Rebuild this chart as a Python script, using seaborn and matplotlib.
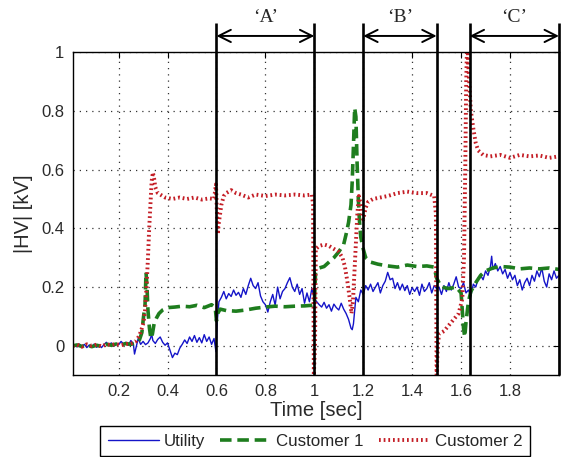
import matplotlib
matplotlib.use("Agg")
import matplotlib.pyplot as plt
import seaborn as sns

# ---- data ----
t_utility = [
    0.0125, 0.02, 0.03, 0.04, 0.05, 0.06, 0.07, 0.08, 0.09, 0.10, 0.11, 0.12, 0.13, 0.14,
    0.15, 0.16, 0.17, 0.18, 0.19, 0.20, 0.21, 0.22, 0.23, 0.24, 0.25, 0.26, 0.265, 0.27,
    0.28, 0.29, 0.30, 0.31, 0.32, 0.33, 0.335, 0.34, 0.35, 0.36, 0.37, 0.38, 0.39, 0.40,
    0.41, 0.42, 0.43, 0.44, 0.45, 0.46, 0.47, 0.48, 0.49, 0.50, 0.51, 0.52, 0.53, 0.54,
    0.55, 0.56, 0.57, 0.58, 0.59, 0.598, 0.603, 0.61, 0.62, 0.63, 0.64, 0.65, 0.66, 0.67,
    0.68, 0.69, 0.70, 0.71, 0.72, 0.73, 0.74, 0.75, 0.76, 0.77, 0.78, 0.79, 0.80, 0.81,
    0.82, 0.83, 0.84, 0.85, 0.86, 0.87, 0.88, 0.89, 0.90, 0.91, 0.92, 0.93, 0.94, 0.95,
    0.96, 0.97, 0.98, 0.99, 1.00, 1.01, 1.02, 1.03, 1.04, 1.05, 1.06, 1.07, 1.08, 1.09,
    1.10, 1.11, 1.12, 1.13, 1.14, 1.15, 1.155, 1.16, 1.17, 1.18, 1.19, 1.20, 1.21, 1.22,
    1.23, 1.24, 1.25, 1.26, 1.27, 1.28, 1.29, 1.30, 1.31, 1.32, 1.33, 1.34, 1.35, 1.36,
    1.37, 1.38, 1.39, 1.40, 1.41, 1.42, 1.43, 1.44, 1.45, 1.46, 1.47, 1.48, 1.49, 1.50,
    1.51, 1.52, 1.53, 1.54, 1.55, 1.56, 1.57, 1.58, 1.59, 1.60, 1.61, 1.62, 1.63, 1.64,
    1.65, 1.66, 1.67, 1.68, 1.69, 1.70, 1.71, 1.72, 1.725, 1.73, 1.74, 1.75, 1.76, 1.77,
    1.78, 1.79, 1.80, 1.81, 1.82, 1.83, 1.84, 1.85, 1.86, 1.87, 1.88, 1.89, 1.90, 1.91,
    1.92, 1.93, 1.94, 1.95, 1.96, 1.97, 1.98, 1.99, 2.00,
]
v_utility = [
    0.000, 0.004, -0.004, 0.006, -0.002, 0.005, -0.006, 0.003, -0.003, 0.006, -0.005, 0.002, -0.006, 0.004,
    0.012, 0.002, 0.010, -0.002, 0.008, 0.004, 0.015, 0.006, 0.012, 0.002, 0.018, 0.008, -0.028, -0.010,
    0.025, 0.005, 0.015, 0.004, 0.010, 0.025, 0.040, 0.018, 0.008, 0.022, 0.030, 0.012, 0.002, 0.010,
    -0.015, -0.040, -0.025, -0.030, -0.008, 0.005, 0.020, 0.008, 0.030, 0.015, 0.035, 0.012, 0.028, 0.010,
    0.038, 0.015, 0.030, 0.005, 0.025, -0.020, 0.080, 0.150, 0.165, 0.185, 0.160, 0.178, 0.168, 0.190,
    0.172, 0.182, 0.165, 0.195, 0.175, 0.205, 0.230, 0.205, 0.195, 0.215, 0.170, 0.150, 0.140, 0.115,
    0.150, 0.175, 0.138, 0.200, 0.160, 0.185, 0.195, 0.215, 0.232, 0.200, 0.185, 0.210, 0.175, 0.195,
    0.145, 0.180, 0.150, 0.195, 0.160, 0.150, 0.140, 0.132, 0.148, 0.128, 0.140, 0.118, 0.142, 0.130,
    0.122, 0.145, 0.125, 0.110, 0.090, 0.060, 0.055, 0.075, 0.165, 0.150, 0.190, 0.175, 0.205, 0.190,
    0.210, 0.185, 0.200, 0.215, 0.180, 0.205, 0.220, 0.250, 0.225, 0.230, 0.195, 0.215, 0.190, 0.210,
    0.188, 0.205, 0.175, 0.198, 0.185, 0.200, 0.172, 0.210, 0.185, 0.195, 0.215, 0.180, 0.205, 0.195,
    0.200, 0.175, 0.205, 0.185, 0.215, 0.190, 0.210, 0.235, 0.200, 0.195, 0.215, 0.180, 0.190, 0.170,
    0.210, 0.200, 0.230, 0.240, 0.225, 0.255, 0.240, 0.270, 0.305, 0.260, 0.280, 0.255, 0.270, 0.245,
    0.260, 0.230, 0.250, 0.225, 0.240, 0.205, 0.225, 0.190, 0.215, 0.230, 0.205, 0.240, 0.220, 0.255,
    0.235, 0.265, 0.220, 0.200, 0.245, 0.225, 0.255, 0.230, 0.240,
]

t_customer1 = [
    0.0125, 0.03, 0.05, 0.07, 0.09, 0.11, 0.13, 0.15, 0.17, 0.19, 0.21, 0.23, 0.25, 0.27,
    0.285, 0.295, 0.302, 0.308, 0.312, 0.316, 0.320, 0.326, 0.332, 0.338, 0.345, 0.355,
    0.365, 0.38, 0.40, 0.43, 0.46, 0.49, 0.52, 0.55, 0.58, 0.595, 0.600, 0.605, 0.615,
    0.64, 0.68, 0.72, 0.76, 0.80, 0.84, 0.88, 0.92, 0.96, 0.99, 1.00, 1.005, 1.02, 1.04,
    1.06, 1.08, 1.10, 1.12, 1.13, 1.14, 1.15, 1.155, 1.16, 1.165, 1.17, 1.175, 1.18,
    1.185, 1.19, 1.20, 1.21, 1.23, 1.26, 1.30, 1.34, 1.38, 1.42, 1.46, 1.49, 1.50, 1.52,
    1.55, 1.58, 1.60, 1.605, 1.61, 1.615, 1.62, 1.63, 1.64, 1.66, 1.68, 1.70, 1.73, 1.76,
    1.80, 1.84, 1.88, 1.92, 1.96, 2.00,
]
v_customer1 = [
    0.000, 0.003, -0.002, 0.004, -0.003, 0.002, -0.002, 0.005, 0.002, 0.006, 0.003, 0.008, 0.005, 0.010,
    0.020, 0.045, 0.100, 0.140, 0.250, 0.200, 0.120, 0.060, 0.025, 0.040, 0.075, 0.095,
    0.110, 0.122, 0.130, 0.132, 0.135, 0.133, 0.138, 0.130, 0.140, 0.130, 0.085, 0.110, 0.125,
    0.120, 0.118, 0.122, 0.128, 0.132, 0.135, 0.133, 0.135, 0.136, 0.138, 0.140, 0.250, 0.265, 0.270,
    0.285, 0.300, 0.320, 0.345, 0.380, 0.420, 0.480, 0.560, 0.680, 0.810, 0.780, 0.620, 0.500,
    0.420, 0.370, 0.330, 0.300, 0.285, 0.278, 0.272, 0.268, 0.275, 0.270, 0.272, 0.268, 0.230, 0.200,
    0.195, 0.200, 0.180, 0.120, 0.060, 0.030, 0.080, 0.150, 0.185, 0.215, 0.240, 0.255, 0.265, 0.270,
    0.268, 0.262, 0.265, 0.262, 0.265, 0.260,
]

t_customer2 = [
    0.0125, 0.03, 0.05, 0.07, 0.09, 0.11, 0.13, 0.15, 0.17, 0.19, 0.21, 0.23, 0.25, 0.27,
    0.285, 0.295, 0.302, 0.308, 0.314, 0.320, 0.325, 0.330, 0.335, 0.340, 0.345, 0.350,
    0.36, 0.37, 0.39, 0.42, 0.45, 0.48, 0.51, 0.54, 0.57, 0.59, 0.598, 0.602, 0.605, 0.61,
    0.62, 0.63, 0.64, 0.66, 0.68, 0.70, 0.73, 0.76, 0.80, 0.84, 0.88, 0.92, 0.96, 0.99,
    0.995, 0.998, 1.003, 1.006, 1.02, 1.04, 1.06, 1.08, 1.10, 1.115, 1.125, 1.135, 1.145,
    1.152, 1.158, 1.164, 1.170, 1.176, 1.182, 1.19, 1.195, 1.20, 1.21, 1.22, 1.24, 1.27,
    1.30, 1.34, 1.38, 1.42, 1.46, 1.49, 1.497, 1.500, 1.505, 1.51, 1.53, 1.55, 1.57, 1.59,
    1.605, 1.612, 1.617, 1.621, 1.625, 1.63, 1.64, 1.65, 1.66, 1.67, 1.69, 1.72, 1.76,
    1.80, 1.84, 1.88, 1.92, 1.96, 2.00,
]
v_customer2 = [
    0.000, 0.004, -0.003, 0.005, 0.000, 0.004, -0.002, 0.005, 0.003, 0.006, 0.002, 0.006, 0.008, 0.015,
    0.035, 0.060, 0.080, 0.120, 0.200, 0.300, 0.400, 0.480, 0.560, 0.590, 0.570, 0.540,
    0.520, 0.515, 0.505, 0.500, 0.505, 0.500, 0.505, 0.498, 0.502, 0.500, 0.550, 0.450, 0.380, 0.420,
    0.480, 0.510, 0.520, 0.530, 0.520, 0.515, 0.505, 0.515, 0.510, 0.515, 0.512, 0.515, 0.512, 0.515,
    0.480, -0.100, 0.000, 0.330, 0.340, 0.345, 0.340, 0.330, 0.320, 0.300, 0.270, 0.220, 0.160,
    0.110, 0.150, 0.250, 0.350, 0.450, 0.510, 0.480, 0.440, 0.430, 0.470, 0.490, 0.500, 0.505,
    0.510, 0.520, 0.525, 0.520, 0.520, 0.510, 0.450, -0.100, 0.000, 0.040, 0.050, 0.070, 0.090, 0.110,
    0.160, 0.300, 0.600, 0.900, 1.050, 0.950, 0.800, 0.740, 0.690, 0.665, 0.650, 0.645, 0.650,
    0.640, 0.650, 0.645, 0.648, 0.640, 0.645,
]

event_times = [0.6, 1.0, 1.2, 1.5, 1.635, 2.0]
spans = [("\u2018A\u2019", 0.6, 1.0), ("\u2018B\u2019", 1.2, 1.5), ("\u2018C\u2019", 1.635, 2.0)]

x_ticks = [0.2, 0.4, 0.6, 0.8, 1.0, 1.2, 1.4, 1.6, 1.8]
x_tick_labels = ["0.2", "0.4", "0.6", "0.8", "1", "1.2", "1.4", "1.6", "1.8"]
y_ticks = [0, 0.2, 0.4, 0.6, 0.8, 1.0]
y_tick_labels = ["0", "0.2", "0.4", "0.6", "0.8", "1"]

# ---- style ----
sns.set_style("white")
plt.rcParams["font.family"] = ["Liberation Sans", "DejaVu Sans"]

fig = plt.figure(figsize=(5.64, 4.57), dpi=100)
ax = fig.add_axes([0.129, 0.179, 0.862, 0.707])

sns.lineplot(x=t_utility, y=v_utility, ax=ax, sort=False, estimator=None,
             color="#1414c8", lw=1.0, label="Utility")
sns.lineplot(x=t_customer1, y=v_customer1, ax=ax, sort=False, estimator=None,
             color="#1e7d1e", lw=2.6, linestyle=(0, (3.2, 1.6)), label="Customer 1")
sns.lineplot(x=t_customer2, y=v_customer2, ax=ax, sort=False, estimator=None,
             color="#c41e26", lw=2.8, linestyle=(0, (0.45, 0.75)), label="Customer 2")
handles, labels = ax.get_legend_handles_labels()
if ax.get_legend() is not None:
    ax.get_legend().remove()

ax.set_xlim(0.0125, 2.0)
ax.set_ylim(-0.1, 1.0)
ax.set_xticks(x_ticks)
ax.set_xticklabels(x_tick_labels)
ax.set_yticks(y_ticks)
ax.set_yticklabels(y_tick_labels)
ax.tick_params(direction="in", length=4, width=0.8, top=True, right=True,
               labelsize=12, labelcolor="#2a2a2a", pad=6, color="black")
ax.grid(True, color="#333333", linestyle=(0, (1, 4)), lw=0.9)
for s in ax.spines.values():
    s.set_color("black")
    s.set_linewidth(1.0)

ax.set_xlabel("Time [sec]", fontsize=14.5, color="#2a2a2a", labelpad=2)
ax.set_ylabel("|HV| [kV]", fontsize=14.5, color="#2a2a2a", labelpad=6)

# event markers above the plot
ax.vlines(event_times, -0.1, 1.1, colors="black", lw=1.9, clip_on=False, zorder=5)
for name, a, b in spans:
    ax.annotate("", xy=(a, 1.055), xytext=(b, 1.055), xycoords="data",
                arrowprops=dict(arrowstyle="<->", color="black", lw=1.4,
                                mutation_scale=22, shrinkA=0, shrinkB=0),
                annotation_clip=False)
    ax.text((a + b) / 2, 1.118, name, ha="center", va="center", fontsize=14,
            family=["Liberation Serif", "DejaVu Serif"], clip_on=False)

order = [labels.index(n) for n in ["Utility", "Customer 1", "Customer 2"]]
fig.legend([handles[i] for i in order], [labels[i] for i in order],
           loc="upper center", bbox_to_anchor=(0.559, 0.068), ncol=3,
           fontsize=12.2, frameon=True, fancybox=False, edgecolor="black",
           framealpha=1, handlelength=3.0, handletextpad=0.3, columnspacing=0.9,
           borderpad=0.45, borderaxespad=0)
fig.legends[0].get_frame().set_linewidth(1.0)

fig.savefig("out.png", dpi=100)
